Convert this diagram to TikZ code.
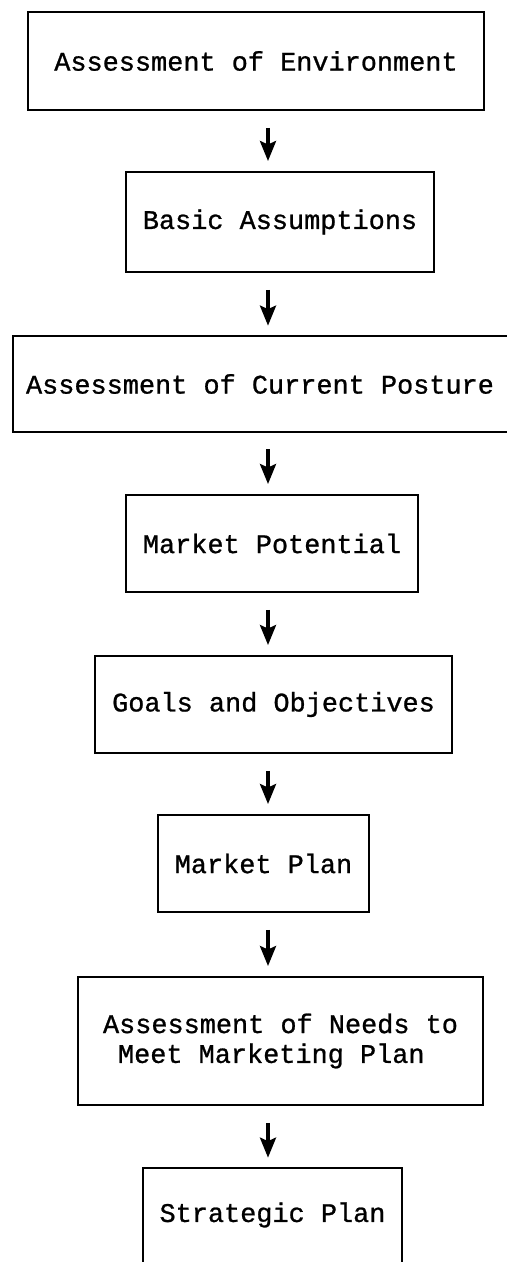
\documentclass[tikz,border=0pt]{standalone}
\usepackage{fontspec}
\newfontfamily\typefont{Liberation Mono}[FakeBold=0.9]
\usepackage{tikz}
\usetikzlibrary{arrows.meta}

\begin{document}
\begin{tikzpicture}
\tikzstyle{stage}=[rectangle,draw,line width=1.1pt,inner sep=0pt,font=\typefont\fontsize{15.3}{17}\selectfont]
\tikzstyle{openstage}=[rectangle,inner sep=0pt,font=\typefont\fontsize{15.3}{17}\selectfont]
\tikzstyle{flow}=[-{Stealth[length=0.4cm,width=0.32cm,inset=0.07cm]},line width=2pt,shorten <=0.34cm,shorten >=0.2cm]
\useasboundingbox (0,0) rectangle (10.14,-25.24);
\coordinate (ax) at (5.36,0);
\node [stage,minimum width=9.12cm,minimum height=1.96cm] (env) at (5.12,-1.22) {Assessment of Environment};
\node [stage,minimum width=6.16cm,minimum height=2.00cm] (basic) at (5.60,-4.44) {Basic Assumptions};
\node [openstage,minimum width=9.88cm,minimum height=1.92cm] (posture) at (5.20,-7.68) {Assessment of Current Posture};
\draw[line width=1.1pt] (posture.north east) -- (posture.north west) -- (posture.south west) -- (posture.south east);
\node [stage,minimum width=5.84cm,minimum height=1.94cm] (potential) at (5.44,-10.87) {Market Potential};
\node [stage,minimum width=7.14cm,minimum height=1.94cm] (goals) at (5.47,-14.09) {Goals and Objectives};
\node [stage,minimum width=4.22cm,minimum height=1.94cm] (mplan) at (5.27,-17.27) {Market Plan};
\node [stage,minimum width=8.10cm,minimum height=2.56cm,align=left] (needs) at (5.61,-20.82) {Assessment of Needs to\\\hspace{0.3cm}Meet Marketing Plan};
\node [openstage,minimum width=5.18cm,minimum height=1.88cm] (strat) at (5.45,-24.30) {Strategic Plan};
\draw[line width=1.1pt] (strat.south west) -- (strat.north west) -- (strat.north east) -- (strat.south east);
% arrows between the stages
\draw[flow] (env.south -| ax) -- (basic.north -| ax);
\draw[flow] (basic.south -| ax) -- (posture.north -| ax);
\draw[flow] (posture.south -| ax) -- (potential.north -| ax);
\draw[flow] (potential.south -| ax) -- (goals.north -| ax);
\draw[flow] (goals.south -| ax) -- (mplan.north -| ax);
\draw[flow] (mplan.south -| ax) -- (needs.north -| ax);
\draw[flow] (needs.south -| ax) -- (strat.north -| ax);
\end{tikzpicture}
\end{document}
